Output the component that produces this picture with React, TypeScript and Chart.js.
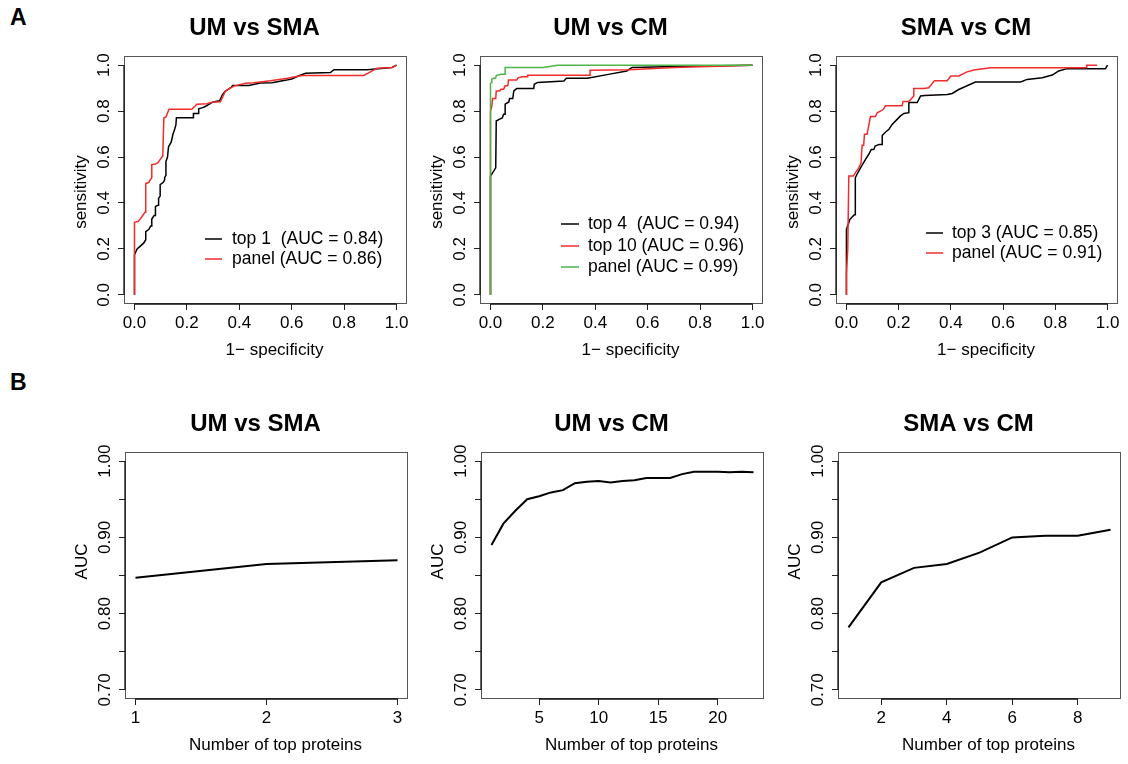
import React, { useEffect, useRef } from 'react';
import { Chart, registerables } from 'chart.js';

Chart.register(...registerables);

const FONT = '"Liberation Sans", Arial, Helvetica, sans-serif';
const BLACK = '#000000';
const RED = '#F22B2B';
const GREEN = '#4DB548';

// ---------- tick values / labels ----------
const rocTickValues = [0, 0.2, 0.4, 0.6, 0.8, 1.0];
const rocTickLabels = ['0.0', '0.2', '0.4', '0.6', '0.8', '1.0'];
const aucTickValues = [0.7, 0.75, 0.8, 0.85, 0.9, 0.95, 1.0];
const aucTickLabels = ['0.70', '', '0.80', '', '0.90', '', '1.00'];
const b1XTicks = [1, 2, 3];
const b2XTicks = [5, 10, 15, 20];
const b3XTicks = [2, 4, 6, 8];

const panelTitles = ['UM vs SMA', 'UM vs CM', 'SMA vs CM'];
const rocXLabel = '1\u2212 specificity';
const rocYLabel = 'sensitivity';
const aucXLabel = 'Number of top proteins';
const aucYLabel = 'AUC';

// ---------- A: ROC curves ----------
// UM vs SMA
const umSmaLabels = ['top 1  (AUC = 0.84)', 'panel (AUC = 0.86)'];
const umSmaTop1Fpr = [0, 0, 0.01, 0.02, 0.035, 0.043, 0.043, 0.055, 0.062, 0.066, 0.066, 0.075, 0.08, 0.08, 0.09, 0.092, 0.098, 0.098, 0.11, 0.115, 0.115, 0.12, 0.12, 0.126, 0.13, 0.14, 0.147, 0.152, 0.158, 0.16, 0.225, 0.225, 0.245, 0.245, 0.26, 0.27, 0.3, 0.325, 0.335, 0.345, 0.355, 0.37, 0.375, 0.436, 0.48, 0.525, 0.58, 0.6, 0.63, 0.653, 0.748, 0.761, 0.888, 0.93, 0.983, 1];
const umSmaTop1Sens = [0, 0.175, 0.2, 0.21, 0.225, 0.24, 0.275, 0.285, 0.3, 0.3, 0.33, 0.345, 0.345, 0.385, 0.39, 0.42, 0.43, 0.48, 0.49, 0.5, 0.51, 0.52, 0.58, 0.6, 0.645, 0.665, 0.7, 0.715, 0.74, 0.771, 0.771, 0.79, 0.79, 0.81, 0.815, 0.82, 0.84, 0.845, 0.87, 0.885, 0.893, 0.905, 0.912, 0.912, 0.922, 0.924, 0.935, 0.94, 0.955, 0.965, 0.968, 0.98, 0.98, 0.985, 0.99, 1];
const umSmaPanelFpr = [0, 0, 0.015, 0.028, 0.04, 0.043, 0.043, 0.055, 0.06, 0.066, 0.066, 0.08, 0.09, 0.098, 0.108, 0.112, 0.12, 0.132, 0.219, 0.238, 0.276, 0.3, 0.328, 0.34, 0.347, 0.379, 0.424, 0.455, 0.519, 0.583, 0.64, 0.875, 0.926, 0.983, 1];
const umSmaPanelSens = [0, 0.316, 0.32, 0.34, 0.36, 0.36, 0.485, 0.49, 0.5, 0.51, 0.567, 0.57, 0.575, 0.59, 0.605, 0.77, 0.775, 0.808, 0.808, 0.83, 0.832, 0.84, 0.841, 0.87, 0.887, 0.909, 0.921, 0.924, 0.932, 0.943, 0.955, 0.955, 0.987, 0.99, 1];

// UM vs CM
const umCmLabels = ['top 4  (AUC = 0.94)', 'top 10 (AUC = 0.96)', 'panel (AUC = 0.99)'];
const umCmTop4Fpr = [0, 0, 0.02, 0.022, 0.035, 0.045, 0.05, 0.056, 0.056, 0.07, 0.073, 0.085, 0.089, 0.1, 0.165, 0.167, 0.18, 0.28, 0.29, 0.37, 0.45, 0.52, 0.54, 0.75, 1];
const umCmTop4Sens = [0, 0.517, 0.553, 0.757, 0.765, 0.77, 0.786, 0.786, 0.83, 0.84, 0.855, 0.855, 0.888, 0.898, 0.898, 0.917, 0.925, 0.931, 0.943, 0.943, 0.96, 0.975, 0.99, 0.995, 1];
const umCmTop10Fpr = [0, 0, 0.005, 0.008, 0.02, 0.022, 0.035, 0.04, 0.05, 0.056, 0.066, 0.069, 0.1, 0.105, 0.12, 0.142, 0.142, 0.38, 0.38, 0.53, 0.7, 1];
const umCmTop10Sens = [0, 0.8, 0.82, 0.855, 0.855, 0.888, 0.888, 0.895, 0.895, 0.91, 0.91, 0.936, 0.936, 0.945, 0.95, 0.95, 0.956, 0.956, 0.978, 0.98, 0.99, 1];
const umCmPanelFpr = [0, 0, 0.005, 0.005, 0.02, 0.022, 0.04, 0.056, 0.056, 0.2, 0.256, 1];
const umCmPanelSens = [0, 0.92, 0.925, 0.94, 0.945, 0.955, 0.96, 0.96, 0.99, 0.99, 1, 1];

// SMA vs CM
const smaCmLabels = ['top 3 (AUC = 0.85)', 'panel (AUC = 0.91)'];
const smaCmTop3Fpr = [0, 0, 0.013, 0.03, 0.034, 0.034, 0.04, 0.054, 0.073, 0.085, 0.095, 0.105, 0.11, 0.125, 0.137, 0.137, 0.15, 0.163, 0.175, 0.194, 0.207, 0.22, 0.239, 0.239, 0.271, 0.284, 0.3, 0.386, 0.405, 0.43, 0.494, 0.667, 0.692, 0.75, 0.788, 0.813, 0.845, 0.992, 1];
const smaCmTop3Sens = [0, 0.284, 0.328, 0.349, 0.349, 0.51, 0.524, 0.553, 0.59, 0.611, 0.633, 0.633, 0.648, 0.655, 0.655, 0.694, 0.709, 0.721, 0.742, 0.764, 0.779, 0.79, 0.793, 0.837, 0.837, 0.866, 0.868, 0.872, 0.877, 0.894, 0.927, 0.927, 0.938, 0.945, 0.957, 0.975, 0.985, 0.985, 1];
const smaCmPanelFpr = [0, 0, 0.005, 0.009, 0.026, 0.047, 0.056, 0.06, 0.066, 0.069, 0.079, 0.092, 0.111, 0.118, 0.13, 0.142, 0.149, 0.213, 0.217, 0.239, 0.258, 0.258, 0.296, 0.315, 0.337, 0.386, 0.4, 0.43, 0.462, 0.488, 0.552, 0.92, 0.92, 0.96];
const smaCmPanelSens = [0, 0.095, 0.197, 0.517, 0.517, 0.553, 0.575, 0.651, 0.651, 0.699, 0.699, 0.776, 0.776, 0.793, 0.8, 0.808, 0.823, 0.823, 0.842, 0.842, 0.866, 0.898, 0.898, 0.902, 0.932, 0.932, 0.953, 0.953, 0.971, 0.979, 0.989, 0.989, 1, 1];

// ---------- B: AUC vs number of top proteins ----------
const umSmaTopN = [1, 2, 3];
const umSmaAuc = [0.847, 0.865, 0.87];
const umCmTopN = [1, 2, 3, 4, 5, 6, 7, 8, 9, 10, 11, 12, 13, 14, 15, 16, 17, 18, 19, 20, 21, 22, 23];
const umCmAuc = [0.89, 0.918, 0.935, 0.95, 0.954, 0.959, 0.962, 0.971, 0.973, 0.974, 0.972, 0.974, 0.975, 0.978, 0.978, 0.978, 0.983, 0.986, 0.986, 0.986, 0.9855, 0.986, 0.9855];
const smaCmTopN = [1, 2, 3, 4, 5, 6, 7, 8, 9];
const smaCmAuc = [0.782, 0.841, 0.86, 0.865, 0.88, 0.9, 0.902, 0.902, 0.91];

// ---------- layout ----------
type Series = { label: string; xs: number[]; ys: number[]; color: string; width: number };
type Legend = { segX0: number; segX1: number; textX: number; rows: number[] };
type PanelSpec = {
  box: { l: number; t: number; r: number; b: number };
  title: string;
  xLabel: string;
  yLabel: string;
  xRange: number[];
  yRange: number[];
  xTicks: number[];
  xTickLabels: string[];
  yTicks: number[];
  yTickLabels: string[];
  yTickPad: number;
  yLabelDy: number;
  series: Series[];
  legend?: Legend;
};

const PAD_L = 70;
const PAD_T = 50;
const PAD_R = 15;
const PAD_B = 62;

const ROC_RANGE = [-0.04, 1.04];
const AUC_RANGE = [0.688, 1.012];

const rocPanel = (i: number, box: PanelSpec['box'], series: Series[], legend: Legend): PanelSpec => ({
  box, title: panelTitles[i], xLabel: rocXLabel, yLabel: rocYLabel,
  xRange: ROC_RANGE, yRange: ROC_RANGE,
  xTicks: rocTickValues, xTickLabels: rocTickLabels,
  yTicks: rocTickValues, yTickLabels: rocTickLabels,
  yTickPad: 1.5, yLabelDy: 12, series, legend,
});

const aucPanel = (i: number, box: PanelSpec['box'], xs: number[], ys: number[], xTicks: number[], xMin: number, xMax: number): PanelSpec => ({
  box, title: panelTitles[i], xLabel: aucXLabel, yLabel: aucYLabel,
  xRange: [xMin - (xMax - xMin) * 0.04, xMax + (xMax - xMin) * 0.04], yRange: AUC_RANGE,
  xTicks, xTickLabels: xTicks.map(String),
  yTicks: aucTickValues, yTickLabels: aucTickLabels,
  yTickPad: -3, yLabelDy: -14,
  series: [{ label: 'AUC', xs, ys, color: BLACK, width: 2 }],
});

const panels: PanelSpec[] = [
  rocPanel(0, { l: 124, t: 56, r: 407, b: 304 }, [
    { label: umSmaLabels[0], xs: umSmaTop1Fpr, ys: umSmaTop1Sens, color: BLACK, width: 1.5 },
    { label: umSmaLabels[1], xs: umSmaPanelFpr, ys: umSmaPanelSens, color: RED, width: 1.5 },
  ], { segX0: 81, segX1: 98, textX: 108, rows: [183, 203] }),
  rocPanel(1, { l: 480, t: 56, r: 763, b: 304 }, [
    { label: umCmLabels[0], xs: umCmTop4Fpr, ys: umCmTop4Sens, color: BLACK, width: 1.5 },
    { label: umCmLabels[1], xs: umCmTop10Fpr, ys: umCmTop10Sens, color: RED, width: 1.5 },
    { label: umCmLabels[2], xs: umCmPanelFpr, ys: umCmPanelSens, color: GREEN, width: 1.5 },
  ], { segX0: 81, segX1: 99, textX: 108, rows: [168, 190, 211] }),
  rocPanel(2, { l: 836, t: 56, r: 1118, b: 304 }, [
    { label: smaCmLabels[0], xs: smaCmTop3Fpr, ys: smaCmTop3Sens, color: BLACK, width: 1.5 },
    { label: smaCmLabels[1], xs: smaCmPanelFpr, ys: smaCmPanelSens, color: RED, width: 1.5 },
  ], { segX0: 90, segX1: 107, textX: 116, rows: [177, 197] }),
  aucPanel(0, { l: 125, t: 452, r: 408, b: 699 }, umSmaTopN, umSmaAuc, b1XTicks, 1, 3),
  aucPanel(1, { l: 481, t: 452, r: 764, b: 699 }, umCmTopN, umCmAuc, b2XTicks, 1, 23),
  aucPanel(2, { l: 838, t: 452, r: 1121, b: 699 }, smaCmTopN, smaCmAuc, b3XTicks, 1, 9),
];

function makeFramePlugin(spec: PanelSpec) {
  return {
    id: 'rFrame',
    afterDraw(chart: any) {
      const { ctx, chartArea: ca, scales } = chart;
      const xs = scales.x;
      const ys = scales.y;
      ctx.save();
      // plot box
      ctx.strokeStyle = '#555555';
      ctx.lineWidth = 1;
      ctx.strokeRect(Math.round(ca.left) + 0.5, Math.round(ca.top) + 0.5, Math.round(ca.right - ca.left) - 1, Math.round(ca.bottom - ca.top) - 1);
      // axis lines (first to last tick)
      ctx.strokeStyle = '#111111';
      ctx.lineWidth = 1.3;
      const xp0 = xs.getPixelForValue(spec.xTicks[0]);
      const xp1 = xs.getPixelForValue(spec.xTicks[spec.xTicks.length - 1]);
      ctx.beginPath();
      ctx.moveTo(xp0, ca.bottom);
      ctx.lineTo(xp1, ca.bottom);
      ctx.stroke();
      const yp0 = ys.getPixelForValue(spec.yTicks[0]);
      const yp1 = ys.getPixelForValue(spec.yTicks[spec.yTicks.length - 1]);
      ctx.beginPath();
      ctx.moveTo(ca.left, yp0);
      ctx.lineTo(ca.left, yp1);
      ctx.stroke();

      const cx = (ca.left + ca.right) / 2;
      const cy = (ca.top + ca.bottom) / 2;
      ctx.fillStyle = '#000000';
      ctx.textAlign = 'center';
      ctx.textBaseline = 'middle';
      // title
      ctx.font = `bold 24px ${FONT}`;
      ctx.fillText(spec.title, cx - 11, ca.top - 28);
      // x label
      ctx.font = `17px ${FONT}`;
      ctx.fillText(spec.xLabel, cx + 9, ca.bottom + 46);
      // y label
      ctx.save();
      ctx.translate(ca.left - 43, cy + spec.yLabelDy);
      ctx.rotate(-Math.PI / 2);
      ctx.fillText(spec.yLabel, 0, 0);
      ctx.restore();

      // legend (R style: segment + text, no box)
      if (spec.legend) {
        const lg = spec.legend;
        ctx.font = `17.5px ${FONT}`;
        ctx.textAlign = 'left';
        chart.data.datasets.forEach((ds: any, i: number) => {
          const y = ca.top + lg.rows[i];
          ctx.strokeStyle = ds.borderColor;
          ctx.lineWidth = 1.5;
          ctx.beginPath();
          ctx.moveTo(ca.left + lg.segX0, y);
          ctx.lineTo(ca.left + lg.segX1, y);
          ctx.stroke();
          ctx.fillStyle = '#000000';
          ctx.fillText(ds.label, ca.left + lg.textX, y);
        });
      }
      ctx.restore();
    },
  };
}

function Panel({ spec }: { spec: PanelSpec }) {
  const ref = useRef<HTMLCanvasElement>(null);
  const w = spec.box.r - spec.box.l + PAD_L + PAD_R;
  const h = spec.box.b - spec.box.t + PAD_T + PAD_B;
  useEffect(() => {
    const n = spec.series.length;
    const chart = new Chart(ref.current as HTMLCanvasElement, {
      type: 'line',
      data: {
        datasets: spec.series.map((s, i) => ({
          label: s.label,
          data: s.xs.map((x, j) => ({ x, y: s.ys[j] })),
          borderColor: s.color,
          backgroundColor: s.color,
          borderWidth: s.width,
          pointRadius: 0,
          tension: 0,
          fill: false,
          order: n - i,
        })),
      },
      options: {
        responsive: false,
        maintainAspectRatio: false,
        devicePixelRatio: 1,
        animation: false,
        events: [],
        layout: { padding: { left: 0, top: PAD_T, right: PAD_R, bottom: 0 } },
        plugins: { legend: { display: false }, tooltip: { enabled: false }, title: { display: false } },
        scales: {
          x: {
            type: 'linear',
            bounds: 'data',
            min: spec.xRange[0],
            max: spec.xRange[1],
            afterBuildTicks: (scale: any) => { scale.ticks = spec.xTicks.map((v) => ({ value: v })); },
            afterFit: (scale: any) => { scale.height = PAD_B; },
            grid: { display: true, drawOnChartArea: false, drawTicks: true, tickLength: 6, color: '#222222', lineWidth: 1 },
            border: { display: false },
            ticks: {
              autoSkip: false, maxRotation: 0, minRotation: 0, padding: 3,
              font: { family: FONT, size: 17 }, color: '#000000',
              callback: (_v: any, idx: number) => spec.xTickLabels[idx],
            },
          },
          y: {
            type: 'linear',
            bounds: 'data',
            min: spec.yRange[0],
            max: spec.yRange[1],
            afterBuildTicks: (scale: any) => { scale.ticks = spec.yTicks.map((v) => ({ value: v })); },
            afterFit: (scale: any) => { scale.width = PAD_L; },
            grid: { display: true, drawOnChartArea: false, drawTicks: true, tickLength: 6, color: '#222222', lineWidth: 1 },
            border: { display: false },
            ticks: {
              autoSkip: false, maxRotation: 90, minRotation: 90, crossAlign: 'center', padding: spec.yTickPad,
              font: { family: FONT, size: 17 }, color: '#000000',
              callback: (_v: any, idx: number) => spec.yTickLabels[idx],
            },
          },
        },
      } as any,
      plugins: [makeFramePlugin(spec)],
    });
    return () => chart.destroy();
  }, []);
  return (
    <canvas
      ref={ref}
      width={w}
      height={h}
      style={{ position: 'absolute', left: spec.box.l - PAD_L, top: spec.box.t - PAD_T, width: w, height: h }}
    />
  );
}

const letterStyle: React.CSSProperties = {
  position: 'absolute', left: 10, fontFamily: FONT, fontWeight: 'bold', fontSize: 23, lineHeight: '23px', color: '#000',
};

export default function App() {
  return (
    <div style={{ position: 'absolute', left: 0, top: 0, width: 1128, height: 764, background: '#ffffff', overflow: 'hidden' }}>
      <div style={{ ...letterStyle, top: 5.5 }}>A</div>
      <div style={{ ...letterStyle, top: 370.5 }}>B</div>
      {panels.map((p, i) => <Panel key={i} spec={p} />)}
    </div>
  );
}
